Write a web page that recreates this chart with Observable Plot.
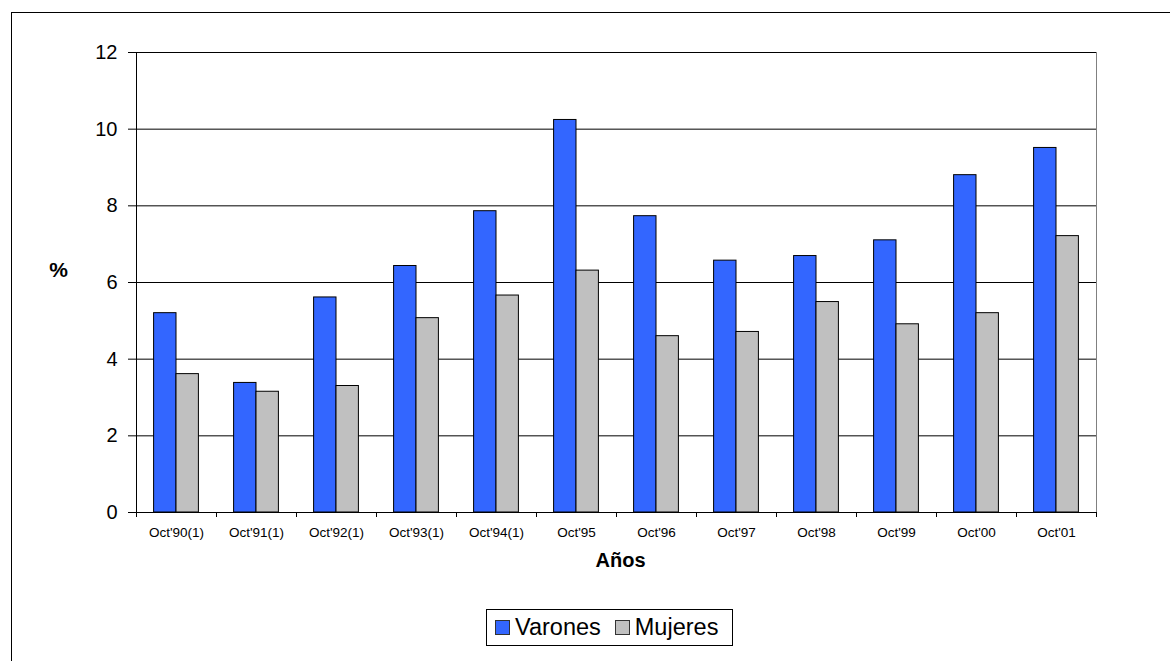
<!DOCTYPE html>
<html>
<head>
<meta charset="utf-8">
<script src="https://cdn.jsdelivr.net/npm/d3@7"></script>
<script src="https://cdn.jsdelivr.net/npm/@observablehq/plot@0.6"></script>
<style>
  html, body { margin: 0; padding: 0; background: #fff; overflow: hidden; }
  body { width: 1170px; height: 661px; position: relative; font-family: Arial, "Liberation Sans", sans-serif; }
  #frame { position: absolute; left: 11px; top: 12px; width: 1300px; height: 800px; border-left: 1px solid #000; border-top: 1px solid #000; box-sizing: border-box; }
  #chart { position: absolute; left: 0; top: 0; }
  #legend { position: absolute; left: 486px; top: 609px; width: 247px; height: 37px; border: 1px solid #000; box-sizing: border-box; display: flex; align-items: center; font-size: 23.5px; color: #000; background: #fff; white-space: nowrap; }
  .sw { display: inline-block; width: 15px; height: 15px; border: 1px solid #333; box-sizing: border-box; margin-right: 5px; }
  .item { display: flex; align-items: center; }
</style>
</head>
<body>
<div id="frame"></div>
<div id="chart"></div>
<div id="legend"></div>
<script>
const years = ["Oct'90(1)", "Oct'91(1)", "Oct'92(1)", "Oct'93(1)", "Oct'94(1)", "Oct'95", "Oct'96", "Oct'97", "Oct'98", "Oct'99", "Oct'00", "Oct'01"];
const varones = [5.20, 3.38, 5.61, 6.43, 7.86, 10.24, 7.73, 6.57, 6.69, 7.10, 8.80, 9.51];
const mujeres = [3.61, 3.15, 3.30, 5.07, 5.66, 6.31, 4.60, 4.71, 5.49, 4.91, 5.20, 7.21];
const series = ["Varones", "Mujeres"];
const colors = ["#3366FF", "#C0C0C0"];
const yTicks = [0, 2, 4, 6, 8, 10, 12];

const dataV = years.map((y, i) => ({year: y, value: varones[i]}));
const dataM = years.map((y, i) => ({year: y, value: mujeres[i]}));

const W = 1170, H = 595;
const mL = 136, mR = 74, mT = 52, mB = H - 512;
const step = (W - mL - mR) / years.length; // 80
const barW = step * 0.28;
const half = step / 2;

const plot = Plot.plot({
  width: W,
  height: H,
  marginLeft: mL,
  marginRight: mR,
  marginTop: mT,
  marginBottom: mB,
  style: {fontFamily: "Arial, 'Liberation Sans', sans-serif", background: "transparent", color: "#000"},
  x: {type: "band", domain: years, padding: 0},
  y: {domain: [0, 12]},
  marks: [
    Plot.ruleY(yTicks.filter(d => d > 0), {stroke: "#000", strokeWidth: 1}),
    Plot.ruleX([years[years.length - 1]], {dx: half, stroke: "#808080", y1: 0, y2: 12}),
    Plot.barY(dataV, {x: "year", y: "value", fill: colors[0], stroke: "#000", strokeWidth: 1,
      insetLeft: half - barW, insetRight: half}),
    Plot.barY(dataM, {x: "year", y: "value", fill: colors[1], stroke: "#000", strokeWidth: 1,
      insetLeft: half, insetRight: half - barW}),
    Plot.ruleY([0], {stroke: "#000", strokeWidth: 1}),
    Plot.ruleX([0], {x: () => years[0], dx: -half, y1: 0, y2: 12, stroke: "#000"}),
    Plot.axisY({ticks: yTicks, tickSize: 8, tickPadding: 11, fontSize: 20, label: null, stroke: "#000"}),
    Plot.axisX({tickSize: 5, dx: -half, text: null, label: null, stroke: "#000"}),
    Plot.axisX({tickSize: 5, dx: half, text: null, label: null, stroke: "#000"}),
    Plot.axisX({tickSize: 0, tickPadding: 15, fontSize: 13.5, label: null}),
    Plot.text(["Años"], {frameAnchor: "bottom", dy: 54, dx: 4, fontSize: 20, fontWeight: "bold", fill: "#000"}),
    Plot.text(["%"], {frameAnchor: "left", textAnchor: "middle", dx: -78, dy: -12, fontSize: 21, fontWeight: "bold", fill: "#000"})
  ]
});
document.getElementById("chart").appendChild(plot);

const legend = document.getElementById("legend");
series.forEach((s, i) => {
  const it = document.createElement("span");
  it.className = "item";
  it.style.marginLeft = i === 0 ? "8px" : "14px";
  const sw = document.createElement("span");
  sw.className = "sw";
  sw.style.background = colors[i];
  it.appendChild(sw);
  it.appendChild(document.createTextNode(s));
  legend.appendChild(it);
});
</script>
</body>
</html>
